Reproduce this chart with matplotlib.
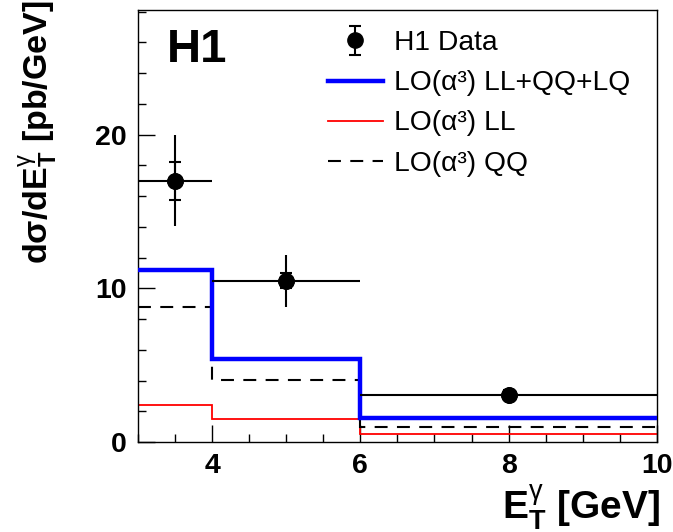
#!/usr/bin/python

# H1 prompt photon cross section vs E_T^gamma, data compared with LO(alpha^3) predictions

import numpy as np
import matplotlib
matplotlib.use('Agg')
import matplotlib.pyplot as plt
from matplotlib.lines import Line2D
from matplotlib.ticker import MultipleLocator

# bin edges and data
edges = [3, 4, 6, 10]
data_x = [3.5, 5, 8]
data_y = [17.0, 10.5, 3.06]
data_stat = [1.25, 0.5, 0.3]
data_tot = [2.95, 1.7, 0.55]

# predictions per bin
lo_all = [11.2, 5.4, 1.54]
lo_ll = [2.4, 1.47, 0.52]
lo_qq = [8.8, 4.04, 1.0]

plt.rcParams['font.family'] = ['Liberation Sans', 'DejaVu Sans']
plt.rcParams['mathtext.fontset'] = 'custom'
plt.rcParams['mathtext.rm'] = 'Liberation Sans'
plt.rcParams['mathtext.bf'] = 'Liberation Sans:bold'
plt.rcParams['mathtext.it'] = 'Liberation Sans:italic'

fig = plt.figure(figsize=(6.73, 5.32), dpi=100)
ax = fig.add_axes([0.205, 0.169, 0.771, 0.812])

ax.stairs(lo_ll, edges, baseline=None, color='#ff0000', lw=1.3, zorder=2)
ax.stairs(lo_qq, edges, baseline=None, color='k', lw=1.5, linestyle=(0, (6.2, 4.5)), zorder=2)
ax.stairs(lo_all, edges, baseline=None, color='#0000ff', lw=3.2, zorder=3)

xerr = [np.array(data_x) - np.array(edges[:-1]), np.array(edges[1:]) - np.array(data_x)]
ax.errorbar(data_x, data_y, xerr=xerr, yerr=data_tot, fmt='o', color='k', ms=11,
            elinewidth=1.5, capsize=0, zorder=4)
stat = ax.errorbar(data_x, data_y, yerr=data_stat, fmt='o', color='k', ms=11,
                   elinewidth=1.5, capsize=4.5, capthick=1.5, zorder=4)

ax.set_xlim(3, 10)
ax.set_ylim(0, 28.1)
ax.xaxis.set_major_locator(MultipleLocator(2))
ax.xaxis.set_minor_locator(MultipleLocator(0.5))
ax.yaxis.set_major_locator(MultipleLocator(10))
ax.yaxis.set_minor_locator(MultipleLocator(2))
ax.tick_params(which='both', direction='in', width=1)
ax.tick_params(which='major', length=12, labelsize=20.5, pad=8)
ax.tick_params(which='minor', length=6)
for lab in ax.get_xticklabels() + ax.get_yticklabels():
    lab.set_fontweight('bold')
for s in ax.spines.values():
    s.set_linewidth(1)

ax.set_xlabel(r'$\mathbf{E}_{\mathbf{T}}^{\mathrm{γ}}$ [GeV]', fontsize=28, fontweight='bold',
              ha='right')
ax.xaxis.set_label_coords(1.006, -0.095)
ax.set_ylabel(r'dσ/d$\mathbf{E}_{\mathbf{T}}^{\mathrm{γ}}$ [pb/GeV]', fontsize=24.5,
              fontweight='bold', ha='right')
ax.yaxis.set_label_coords(-0.152, 1.023)

ax.text(0.055, 0.958, 'H1', transform=ax.transAxes, fontsize=34, fontweight='bold',
        va='top', ha='left')

handles = [
    stat,
    Line2D([], [], color='#0000ff', lw=3.2),
    Line2D([], [], color='#ff0000', lw=1.3),
    Line2D([], [], color='k', lw=1.5, ls=(0, (6.2, 4.5))),
]
labels = ['H1 Data', 'LO(α³) LL+QQ+LQ', 'LO(α³) LL', 'LO(α³) QQ']
ax.legend(handles, labels, loc='upper left', bbox_to_anchor=(0.317, 1.012), frameon=False,
          fontsize=20.3, handlelength=1.95, handletextpad=0.4, labelspacing=0.5)

plt.savefig('out.png', dpi=100)
